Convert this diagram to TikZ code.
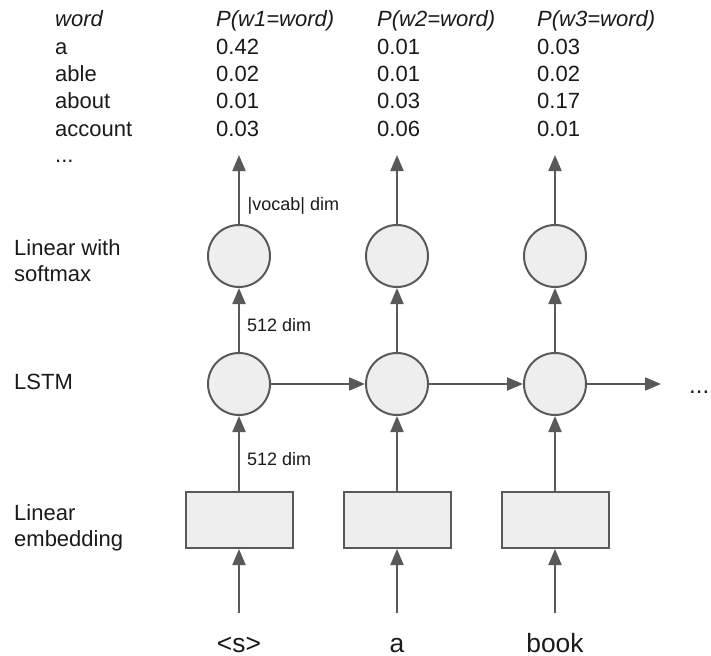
\documentclass[tikz,border=0pt]{standalone}
\usepackage{fontspec}
\setmainfont{Liberation Sans}
\usetikzlibrary{arrows.meta}
\definecolor{edge}{HTML}{595959}
\definecolor{cellfill}{HTML}{EEEEEE}
\definecolor{ink}{HTML}{1A1A1A}
\begin{document}
\begin{tikzpicture}[x=1pt,y=-1pt,
  unit/.style={circle,draw=edge,fill=cellfill,line width=2pt,minimum size=62pt,inner sep=0pt},
  embed/.style={rectangle,draw=edge,fill=cellfill,line width=2pt,minimum width=107pt,minimum height=56pt,inner sep=0pt},
  flow/.style={draw=edge,line width=2pt,-{Triangle[length=16pt,width=13pt]}},
  txt/.style={inner sep=0pt,anchor=base west,text=ink,font=\fontsize{22}{26}\selectfont},
  small/.style={inner sep=0pt,anchor=base west,text=ink,font=\fontsize{18}{21}\selectfont},
  token/.style={inner sep=0pt,anchor=base,text depth=0pt,text=ink,font=\fontsize{26.4}{30}\selectfont}]
\useasboundingbox (0,0) rectangle (711,655);

% probability table
\node[txt,font=\fontsize{22}{26}\selectfont\itshape] (hw) at (55,27) {word};
\node[txt,font=\fontsize{22}{26}\selectfont\itshape] (h1) at (216,27) {P(w1=word)};
\node[txt,font=\fontsize{22}{26}\selectfont\itshape] (h2) at (377,27) {P(w2=word)};
\node[txt,font=\fontsize{22}{26}\selectfont\itshape] (h3) at (537,27) {P(w3=word)};
\node[txt] (wa) at (55,54.3) {a};
\node[txt] (wb) at (55,81.6) {able};
\node[txt] (wc) at (55,109) {about};
\node[txt] (wd) at (55,136.3) {account};
\node[txt] (we) at (55,163) {...};
\node[txt] (p1a) at (216,54.3) {0.42};
\node[txt] (p1b) at (216,81.6) {0.02};
\node[txt] (p1c) at (216,109) {0.01};
\node[txt] (p1d) at (216,136.3) {0.03};
\node[txt] (p2a) at (377,54.3) {0.01};
\node[txt] (p2b) at (377,81.6) {0.01};
\node[txt] (p2c) at (377,109) {0.03};
\node[txt] (p2d) at (377,136.3) {0.06};
\node[txt] (p3a) at (537,54.3) {0.03};
\node[txt] (p3b) at (537,81.6) {0.02};
\node[txt] (p3c) at (537,109) {0.17};
\node[txt] (p3d) at (537,136.3) {0.01};

% row labels
\node[txt] (lsoft1) at (14,255) {Linear with};
\node[txt] (lsoft2) at (14,281) {softmax};
\node[txt] (llstm) at (14,389) {LSTM};
\node[txt] (lemb1) at (14,520) {Linear};
\node[txt] (lemb2) at (14,546) {embedding};

% network columns
\foreach \i/\x/\w in {1/239/{<s>},2/397/a,3/555/book} {
  \node[unit] (s\i) at (\x,256) {};
  \node[unit] (l\i) at (\x,384) {};
  \node[embed] (e\i) at (\x,520) {};
  \coordinate (in\i) at (\x,613);
  \coordinate (out\i) at (\x,155);
  \node[token] (t\i) at (\x,652) {\w};
  \draw[flow] (in\i) -- (e\i.south);
  \draw[flow] (e\i.north) -- (l\i.south);
  \draw[flow] (l\i.north) -- (s\i.south);
  \draw[flow] (s\i.north) -- (out\i);
}
\draw[flow] (l1.east) -- (l2.west);
\draw[flow] (l2.east) -- (l3.west);
\coordinate (next) at (661,384);
\draw[flow] (l3.east) -- (next);
\node[txt,font=\fontsize{24}{28}\selectfont] (more) at (689,393) {...};

% dimension labels
\node[small] (dv) at (247.5,210.5) {|vocab| dim};
\node[small] (d1) at (247,331) {512 dim};
\node[small] (d2) at (247,465) {512 dim};
\end{tikzpicture}
\end{document}
